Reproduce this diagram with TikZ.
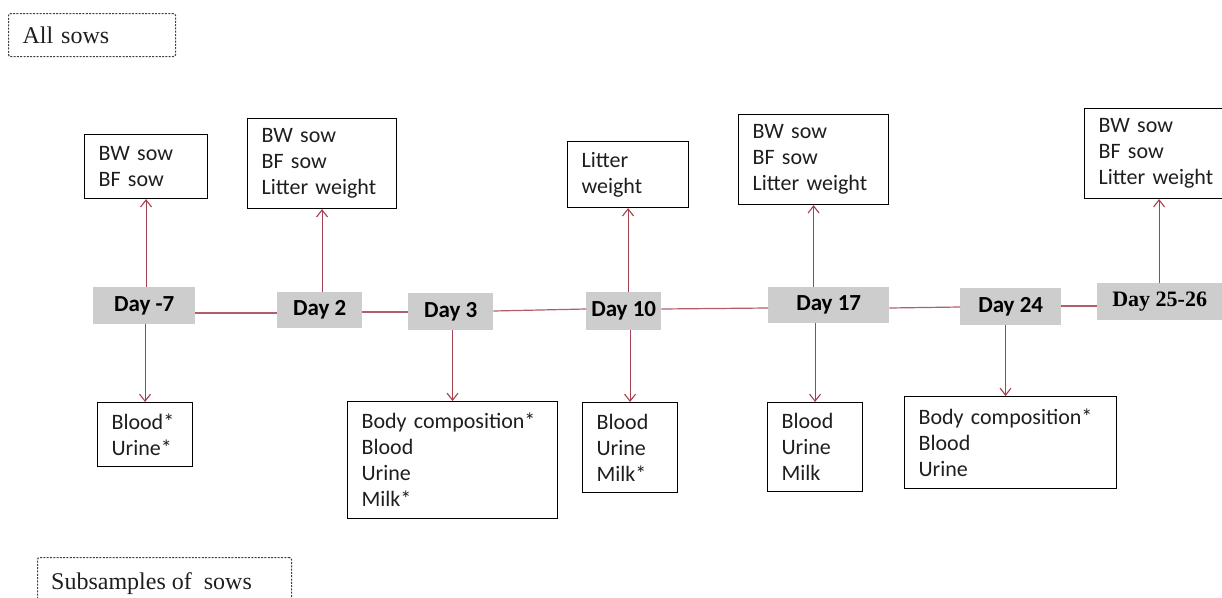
\documentclass[tikz,border=0pt]{standalone}
\usepackage{fontspec}
\usetikzlibrary{arrows.meta}
\newfontfamily\calfont{Carlito}
\newfontfamily\tnrfont{Liberation Serif}
\definecolor{arrred}{HTML}{A5404E}
\definecolor{dayfill}{HTML}{CDCDCD}
\definecolor{txt}{HTML}{1E1E1E}
\tikzset{
  tbox/.style={draw=black, line width=1.1pt, anchor=north west, inner xsep=14pt, inner ysep=3pt,
    align=left, text=txt, font=\calfont\fontsize{22}{26}\selectfont},
  daybox/.style={fill=dayfill, anchor=north west, inner sep=0pt, text=black,
    font=\calfont\bfseries\fontsize{23}{26}\selectfont},
  dashbox/.style={draw=black!75, line width=1.1pt, dash pattern=on 2pt off 1.3pt, rounded corners=2pt},
  arr/.style={draw=arrred, line width=1.1pt, -{Straight Barb[length=7pt,width=11pt,line width=1.1pt]}},
  hline/.style={draw=arrred!85, line width=1.2pt},
}
\newcommand{\tb}[6]{\node[tbox, minimum width=#4-#2, minimum height=#5-#3, text width=#4-#2-28] (#1) at (#2,#3) {#6};}
\newcommand{\dbox}[6]{\node[daybox, minimum width=#4-#2, minimum height=#5-#3] (#1) at (#2,#3) {#6};}
\begin{document}
\begin{tikzpicture}[x=1pt,y=-1pt]
\useasboundingbox (0,0) rectangle (1222,597);
\clip (0,0) rectangle (1222,597);
% dashed labels
\node[dashbox, anchor=north west, minimum width=167, minimum height=43, inner xsep=14pt, text width=139pt, align=left,
  font=\tnrfont\fontsize{24}{28}\selectfont, text=txt] (allsows) at (8,13) {All sows};
\node[dashbox, anchor=north west, minimum width=254, minimum height=80] (subbox) at (37,557) {};
\node[anchor=base west, inner sep=0pt, font=\tnrfont\fontsize{24}{28}\selectfont, text=txt] (subtxt) at (51,589) {Subsamples of\ \ sows};
% day boxes
\dbox{d1}{93}{287}{195}{324}{Day -7}
\dbox{d2}{277}{292}{362}{328}{Day 2}
\dbox{d3}{408}{293}{493}{330}{Day 3}
\dbox{d10}{586}{292}{661}{330}{Day 10}
\dbox{d17}{768}{287}{889}{323}{Day 17}
\dbox{d24}{960}{288}{1061}{325}{Day 24}
\node[daybox, minimum width=125, minimum height=37, font=\tnrfont\bfseries\fontsize{22}{24}\selectfont] (d25) at (1097,283) {Day 25-26};
% top boxes
\tb{t1}{84}{134}{207}{198}{BW sow\\BF sow}
\tb{t2}{247}{118}{396}{208}{BW sow\\BF sow\\Litter weight}
\tb{t3}{567}{141}{688}{207}{Litter\\weight}
\tb{t4}{738}{114}{888}{204}{BW sow\\BF sow\\Litter weight}
\tb{t5}{1084}{108}{1233}{198}{BW sow\\BF sow\\Litter weight}
% bottom boxes
\tb{b1}{97}{402}{192}{466}{Blood*\\Urine*}
\tb{b3}{347}{401}{557}{518}{Body composition*\\Blood\\Urine\\Milk*}
\tb{b10}{582}{402}{677}{492}{Blood\\Urine\\Milk*}
\tb{b17}{767}{402}{862}{491}{Blood\\Urine\\Milk}
\tb{b24}{904}{396}{1116}{488}{Body composition*\\Blood\\Urine}
% timeline
\draw[hline] (d1.east |- 0,313) -- (d2.west |- 0,313);
\draw[hline] (d2.east |- 0,312) -- (d3.west |- 0,312);
\draw[hline] (d3.east |- 0,311) -- (d10.west |- 0,309);
\draw[hline] (d10.east |- 0,309) -- (d17.west |- 0,308);
\draw[hline] (d17.east |- 0,308) -- (d24.west |- 0,307);
\draw[hline] (d24.east |- 0,306) -- (d25.west |- 0,306);
% arrows up
\draw[arr] (t1.south |- d1.north) -- (t1.south);
\draw[arr] (t2.south |- d2.north) -- (t2.south);
\draw[arr] (t3.south |- d10.north) -- (t3.south);
\draw[arr] (t4.south |- d17.north) -- (t4.south);
\draw[arr] (t5.south |- d25.north) -- (t5.south);
% arrows down
\draw[arr] (b1.north |- d1.south) -- (b1.north);
\draw[arr] (b3.north |- d3.south) -- (b3.north);
\draw[arr] (b10.north |- d10.south) -- (b10.north);
\draw[arr] (b17.north |- d17.south) -- (b17.north);
\draw[arr] ([xshift=-5pt]b24.north |- d24.south) -- ([xshift=-5pt]b24.north);
\end{tikzpicture}
\end{document}
